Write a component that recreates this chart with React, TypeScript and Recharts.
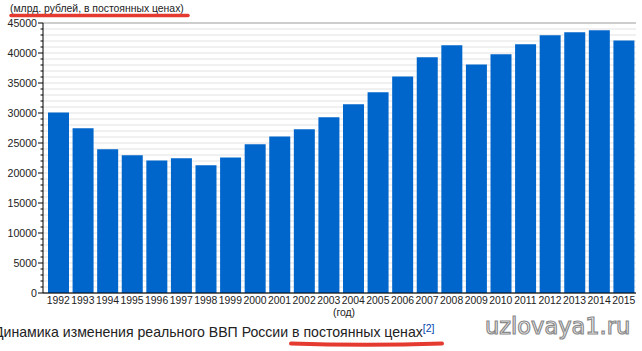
import { BarChart, Bar, XAxis, YAxis, CartesianGrid } from "recharts";

const years = [
  "1992", "1993", "1994", "1995", "1996", "1997", "1998", "1999", "2000", "2001", "2002", "2003",
  "2004", "2005", "2006", "2007", "2008", "2009", "2010", "2011", "2012", "2013", "2014", "2015",
];
const gdp = [
  30100, 27450, 23950, 22950, 22100, 22450, 21300, 22600, 24800, 26100, 27300, 29300,
  31450, 33450, 36100, 39300, 41300, 38100, 39800, 41450, 42950, 43450, 43800, 42100,
];
const majorTicks = [0, 5000, 10000, 15000, 20000, 25000, 30000, 35000, 40000, 45000];
const allTicks = Array.from({ length: 46 }, (_, i) => i * 1000);

const unitLabel = "(млрд. рублей, в постоянных ценах)";
const xLabel = "(год)";
const caption = "Динамика изменения реального ВВП России в постоянных ценах";
const watermark = "uzlovaya1.ru";

const data = years.map((year, i) => ({ year, gdp: gdp[i] }));

const FONT = '"Liberation Sans", Arial, sans-serif';

function YTick({ x, y, payload }: any) {
  const major = payload.value % 5000 === 0;
  return (
    <g>
      <line x1={x - (major ? 5 : 2.5)} x2={x} y1={y} y2={y} stroke="#000" />
      {major && (
        <text x={x - 6} y={y} dy="0.35em" textAnchor="end" fontSize={10.6} fill="#222" fontFamily={FONT}>
          {payload.value}
        </text>
      )}
    </g>
  );
}

export default function App() {
  return (
    <div style={{ position: "absolute", left: 0, top: 0, width: 642, height: 351, background: "#fff" }}>
      <BarChart width={642} height={351} data={data} margin={{ top: 23, right: 6, bottom: 28, left: 0 }}>
        <YAxis yAxisId="major" hide domain={[0, 45000]} ticks={majorTicks} />
        <CartesianGrid yAxisId="main" vertical={false} stroke="#e2e2e2" />
        <CartesianGrid yAxisId="major" vertical={false} stroke="#aaaaaa" />
        <XAxis
          dataKey="year"
          interval={0}
          tickLine={false}
          tickSize={2}
          tickMargin={2}
          height={30}
          padding={{ left: 3, right: 0 }}
          axisLine={{ stroke: "#000" }}
          tick={{ fontSize: 10.4, fill: "#222", fontFamily: FONT }}
        />
        <YAxis
          yAxisId="main"
          width={43}
          domain={[0, 45000]}
          ticks={allTicks}
          interval={0}
          tickLine={false}
          tickSize={0}
          tickMargin={0}
          axisLine={{ stroke: "#000" }}
          tick={<YTick />}
        />
        <Bar yAxisId="main" dataKey="gdp" fill="#0066cc" barSize={21} isAnimationActive={false} />
      </BarChart>
      <svg width={642} height={351} style={{ position: "absolute", left: 0, top: 0, pointerEvents: "none" }}>
        <text x={10} y={12} fontSize={10.4} fill="#222" fontFamily={FONT}>
          {unitLabel}
        </text>
        <line x1={11} x2={188} y1={15.5} y2={15.5} stroke="#e53a2f" strokeWidth={3.5} strokeLinecap="round" />
        <text x={344} y={316} textAnchor="middle" fontSize={10.4} fill="#222" fontFamily={FONT}>
          {xLabel}
        </text>
        <text x={-6} y={337} fontSize={14.1} fill="#222" fontFamily={FONT}>
          {caption}
          <tspan dy={-5} fontSize={10.5} fill="#0645ad">[2]</tspan>
        </text>
        <path d="M291 343.5 Q365 346 442 343.5" stroke="#e53a2f" strokeWidth={4} fill="none" strokeLinecap="round" />
        <text
          x={485}
          y={334}
          fontSize={22.5}
          fill="#fff"
          stroke="#8a8a8a"
          strokeWidth={1.2}
          fontFamily='"DejaVu Sans", Verdana, sans-serif'
        >
          {watermark}
        </text>
      </svg>
    </div>
  );
}
